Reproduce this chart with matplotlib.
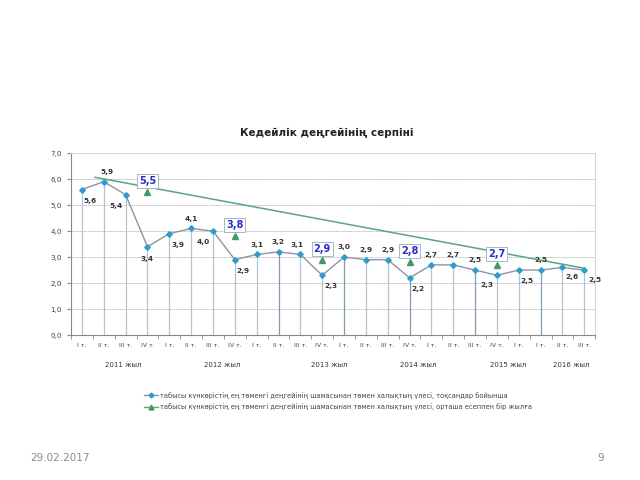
import numpy as np
import matplotlib
matplotlib.use("Agg")
import matplotlib.pyplot as plt

# quarterly share of population below subsistence minimum, %
quarters = ["I т.", "II т.", "III т.", "IV т.",
            "I т.", "II т.", "III т.", "IV т.",
            "I т.", "II т.", "III т.", "IV т.",
            "I т.", "II т.", "III т.", "IV т.",
            "I т.", "II т.", "III т.", "IV т.",
            "I т.", "I т.", "II т.", "III т."]
quarterly = [5.6, 5.9, 5.4, 3.4, 3.9, 4.1, 4.0, 2.9, 3.1, 3.2, 3.1, 2.3,
             3.0, 2.9, 2.9, 2.2, 2.7, 2.7, 2.5, 2.3, 2.5, 2.5, 2.6, 2.5]

# annual average, shown at the IV quarter of each year
annual_idx = [3, 7, 11, 15, 19]
annual = [5.5, 3.8, 2.9, 2.8, 2.7]

# straight trend line drawn across the chart
trend_x = [0.6, 23]
trend_y = [6.07, 2.57]

years = ["2011 жыл", "2012 жыл", "2013 жыл", "2014 жыл", "2015 жыл", "2016 жыл"]
year_pos = [1.9, 6.4, 11.3, 15.4, 19.5, 22.4]

legend_q = "табысы күнкөрістің ең төменгі деңгейінің шамасынан төмен халықтың үлесі, тоқсандар бойынша"
legend_a = "табысы күнкөрістің ең төменгі деңгейінің шамасынан төмен халықтың үлесі, орташа есеппен бір жылға"

# label offsets (points) for each quarterly value
offsets = [(6, -8), (2, 7), (-7, -8), (0, -9), (6, -8), (0, 7), (-7, -8), (6, -8),
           (0, 7), (0, 7), (-2, 7), (6, -8), (0, 7), (0, 7), (0, 7), (6, -8),
           (0, 7), (0, 7), (0, 7), (-7, -7), (6, -8), (0, 7), (7, -7), (8, -7)]

blue = "#2f9ccf"
line_grey = "#8e93a3"
green = "#3f9a63"
drop = "#b0c4d4"

fig = plt.figure(figsize=(6.4, 4.8), dpi=100)
ax = fig.add_axes([0.111, 0.302, 0.819, 0.379])

x = np.arange(len(quarterly))

# drop lines
for i, v in enumerate(quarterly):
    c = "#7f9cb5" if i in (9, 12, 15, 18, 21) else drop
    ax.plot([i, i], [0, v], color=c, lw=0.9, zorder=1)

ax.plot(trend_x, trend_y, color="#5aa57c", lw=1.1, zorder=2)
ax.plot(x, quarterly, color=line_grey, lw=1.0, marker="D", ms=2.8,
        mfc=blue, mec=blue, zorder=3)
ax.plot(annual_idx, annual, linestyle="none", marker="^", ms=5,
        color=green, zorder=4)

for i, v in enumerate(quarterly):
    dx, dy = offsets[i]
    ax.annotate(f"{v:.1f}".replace(".", ","), (i, v), xytext=(dx, dy),
                textcoords="offset points", ha="center", va="center",
                fontsize=5.3, fontweight="bold", color="#333333", zorder=5)

for i, v in zip(annual_idx, annual):
    ax.annotate(f"{v:.1f}".replace(".", ","), (i, v), xytext=(0, 8),
                textcoords="offset points", ha="center", va="center",
                fontsize=7, fontweight="bold", color="#2b2bd0", zorder=6,
                bbox=dict(boxstyle="square,pad=0.2", fc="white", ec="#9fb6cc", lw=0.7))

ax.set_xlim(-0.5, len(quarterly) - 0.5)
ax.set_ylim(0, 7)
ax.set_yticks(range(0, 8))
ax.set_yticklabels([f"{v:.1f}".replace(".", ",") for v in range(0, 8)])
ax.set_xticks(x)
ax.set_xticklabels(quarters)
ax.set_xticks(np.arange(-0.5, len(quarterly), 1), minor=True)
ax.tick_params(axis="x", which="major", length=0, labelsize=4.5, pad=6, colors="#444444")
ax.tick_params(axis="x", which="minor", length=3, color="#888888")
ax.tick_params(axis="y", length=3, labelsize=5.2, color="#888888", colors="#444444")

ax.grid(axis="y", color="#aaaaaa", linestyle=(0, (2, 1)), lw=0.5)
for s in ("top", "right"):
    ax.spines[s].set_color("#d8d8d8")
    ax.spines[s].set_linewidth(0.8)
for s in ("left", "bottom"):
    ax.spines[s].set_color("#888888")
    ax.spines[s].set_linewidth(0.8)

for name, pos in zip(years, year_pos):
    ax.text(pos, -1.15, name, ha="center", va="center", fontsize=5, color="#333333")

fig.text(0.511, 0.723, "Кедейлік деңгейінің серпіні", ha="center", va="center",
         fontsize=7.5, fontweight="bold", color="#222222")

h1, = ax.plot([], [], color=line_grey, lw=1.0, marker="D", ms=2.5, mfc=blue, mec=blue)
h2, = ax.plot([], [], color="#5aa57c", lw=1.0, marker="^", ms=3.5, mfc=green, mec=green)
fig.legend([h1, h2], [legend_q, legend_a], loc="upper left",
           bbox_to_anchor=(0.215, 0.196), frameon=False, fontsize=4.8,
           handlelength=2.2, handletextpad=0.3, labelspacing=0.7,
           labelcolor="#444444")

fig.text(0.047, 0.045, "29.02.2017", fontsize=7.5, color="#8a8a8a", va="center")
fig.text(0.933, 0.045, "9", fontsize=7.5, color="#8a8a8a", va="center")

fig.savefig("out.png", dpi=100)
